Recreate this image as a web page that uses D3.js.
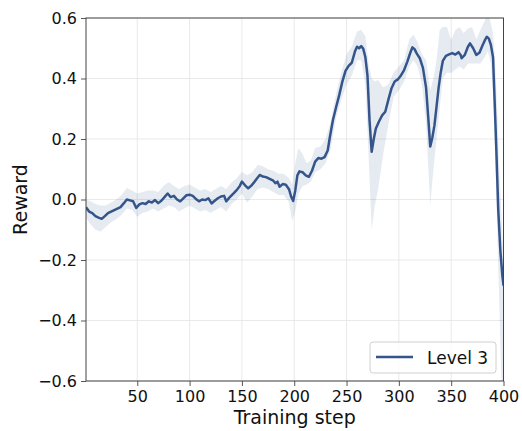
<!DOCTYPE html>
<html>
<head>
<meta charset="utf-8">
<script src="https://cdn.jsdelivr.net/npm/d3@7"></script>
<style>
  body { margin: 0; background: #fff; }
  svg { display: block; font-family: "DejaVu Sans", sans-serif; }
</style>
</head>
<body>
<svg id="chart" width="522" height="431"></svg>
<script>
// 평균 곡선 (step, reward)
const steps = [1, 4, 7, 10, 13, 16, 19, 22, 25, 28, 31, 34, 37, 40, 43, 46, 49, 52, 55, 58,
  61, 64, 67, 70, 73, 76, 79, 82, 85, 88, 91, 94, 97, 100, 103, 106, 109, 112, 115, 118,
  121, 124, 127, 130, 133, 135, 138, 142, 145, 148, 150, 153, 156, 159, 161, 164, 167, 170, 173, 177,
  180, 182, 184, 186, 189, 192, 195, 197, 199, 201, 203, 205, 208, 211, 214, 217, 220, 223, 226, 229,
  232, 234, 237, 240, 243, 246, 249, 252, 255, 258, 260, 262, 264, 266, 268, 270, 272, 274, 276, 278,
  281, 284, 287, 290, 293, 296, 299, 302, 305, 308, 311, 313, 315, 317, 320, 323, 326, 328, 330, 332,
  334, 336, 338, 340, 342, 345, 348, 351, 354, 357, 359, 360, 363, 366, 368, 371, 374, 377, 380, 382,
  384, 386, 388, 390, 392, 393, 395, 397, 399, 400];
const reward = [-0.026, -0.04, -0.045, -0.055, -0.06, -0.064, -0.055, -0.045, -0.04, -0.035, -0.03, -0.025, -0.013, 0.0, -0.003, -0.006, -0.028, -0.016, -0.012, -0.015,
  -0.006, -0.01, -0.002, -0.012, -0.004, 0.008, 0.02, 0.008, 0.012, 0.0, -0.006, 0.004, 0.014, 0.016, 0.012, 0.002, -0.006, 0.0, -0.002, 0.004,
  -0.013, -0.004, 0.004, 0.01, 0.012, -0.006, 0.006, 0.02, 0.031, 0.045, 0.059, 0.047, 0.037, 0.046, 0.054, 0.068, 0.081, 0.076, 0.074, 0.067,
  0.062, 0.054, 0.059, 0.042, 0.051, 0.049, 0.034, 0.01, -0.005, 0.03, 0.08, 0.093, 0.09, 0.08, 0.075, 0.095, 0.125, 0.137, 0.135, 0.14,
  0.162, 0.205, 0.263, 0.305, 0.345, 0.39, 0.425, 0.442, 0.452, 0.489, 0.505, 0.5, 0.507, 0.498, 0.47, 0.41, 0.26, 0.158, 0.2, 0.235,
  0.258, 0.278, 0.29, 0.33, 0.368, 0.39, 0.397, 0.41, 0.428, 0.455, 0.486, 0.503, 0.497, 0.483, 0.467, 0.435, 0.37, 0.275, 0.175, 0.205,
  0.245, 0.307, 0.37, 0.42, 0.458, 0.475, 0.48, 0.484, 0.479, 0.487, 0.478, 0.467, 0.478, 0.505, 0.516, 0.5, 0.478, 0.485, 0.51, 0.525,
  0.538, 0.532, 0.51, 0.47, 0.28, 0.18, -0.035, -0.17, -0.255, -0.285];

// 음영 범위 (하한/상한)
const bandSteps = [1, 5, 10, 15, 20, 25, 30, 35, 40, 45, 50, 55, 60, 65, 70, 75, 80, 85, 90, 95,
  100, 105, 110, 115, 120, 125, 130, 135, 140, 145, 150, 155, 160, 165, 170, 175, 180, 185, 190, 195,
  198, 201, 204, 208, 212, 216, 220, 225, 230, 235, 240, 245, 250, 255, 260, 264, 268, 271, 274, 277,
  280, 285, 290, 295, 300, 305, 310, 314, 318, 322, 326, 330, 333, 336, 339, 342, 346, 350, 354, 358,
  362, 366, 370, 374, 378, 382, 385, 388, 390, 392, 394, 396, 398, 400];
const bandLow = [-0.06, -0.08, -0.1, -0.106, -0.09, -0.075, -0.065, -0.05, -0.03, -0.035, -0.057, -0.045, -0.04, -0.03, -0.04, -0.03, -0.02, -0.025, -0.04, -0.03,
  -0.02, -0.03, -0.04, -0.035, -0.045, -0.035, -0.025, -0.04, -0.015, 0.0, 0.02, -0.01, 0.01, 0.035, 0.04, 0.035, 0.025, 0.015, 0.015, -0.01,
  -0.07, -0.04, 0.02, 0.045, 0.05, 0.06, 0.09, 0.1, 0.12, 0.17, 0.27, 0.33, 0.38, 0.41, 0.46, 0.46, 0.38, 0.15, -0.1, -0.02,
  0.03, 0.15, 0.25, 0.34, 0.36, 0.39, 0.44, 0.46, 0.44, 0.38, 0.25, -0.018, 0.1, 0.2, 0.3, 0.4, 0.42, 0.418, 0.43, 0.44,
  0.43, 0.45, 0.45, 0.45, 0.45, 0.47, 0.49, 0.45, 0.35, 0.15, -0.1, -0.35, -0.6, -0.7];
const bandHigh = [0.0, -0.005, -0.015, -0.02, -0.02, -0.01, 0.0, 0.015, 0.038, 0.03, 0.02, 0.025, 0.03, 0.03, 0.025, 0.045, 0.058, 0.045, 0.035, 0.045,
  0.05, 0.04, 0.03, 0.035, 0.025, 0.035, 0.045, 0.035, 0.055, 0.07, 0.092, 0.08, 0.09, 0.115, 0.11, 0.1, 0.095, 0.085, 0.085, 0.07,
  0.05, 0.12, 0.17, 0.15, 0.12, 0.13, 0.17, 0.175, 0.2, 0.26, 0.35, 0.42, 0.48, 0.505, 0.555, 0.56, 0.54, 0.45, 0.4, 0.39,
  0.395, 0.37, 0.38, 0.42, 0.44, 0.46, 0.53, 0.545, 0.52, 0.48, 0.46, 0.36, 0.4, 0.46, 0.56, 0.57, 0.57, 0.527, 0.56, 0.57,
  0.55, 0.565, 0.57, 0.53, 0.56, 0.59, 0.62, 0.58, 0.55, 0.45, 0.3, 0.1, -0.05, -0.2];

const xTicks = [50, 100, 150, 200, 250, 300, 350, 400];
const yTicks = [-0.6, -0.4, -0.2, 0.0, 0.2, 0.4, 0.6];
const seriesName = "Level 3";

const LINE = "#34558b";
const W = 522, H = 431;
const m = { top: 18, right: 18.5, bottom: 50, left: 86 };

const svg = d3.select("#chart");
const x = d3.scaleLinear().domain([1, 400]).range([m.left, W - m.right]);
const y = d3.scaleLinear().domain([-0.6, 0.6]).range([H - m.bottom, m.top]);

// 그리드
const grid = svg.append("g").attr("stroke", "#e3e3e3").attr("stroke-width", 0.8);
grid.selectAll("line.gx").data(xTicks).join("line")
  .attr("x1", d => x(d)).attr("x2", d => x(d))
  .attr("y1", y(-0.6)).attr("y2", y(0.6));
grid.selectAll("line.gy").data(yTicks).join("line")
  .attr("x1", x(1)).attr("x2", x(400))
  .attr("y1", d => y(d)).attr("y2", d => y(d));

svg.append("clipPath").attr("id", "clip").append("rect")
  .attr("x", m.left).attr("y", m.top)
  .attr("width", W - m.left - m.right).attr("height", H - m.top - m.bottom);

const plot = svg.append("g").attr("clip-path", "url(#clip)");

const band = bandSteps.map((s, i) => ({ s, lo: bandLow[i], hi: bandHigh[i] }));
plot.append("path")
  .datum(band)
  .attr("fill", LINE).attr("fill-opacity", 0.12)
  .attr("d", d3.area().x(d => x(d.s)).y0(d => y(d.lo)).y1(d => y(d.hi)));

const pts = steps.map((s, i) => ({ s, v: reward[i] }));
plot.append("path")
  .datum(pts)
  .attr("fill", "none").attr("stroke", LINE).attr("stroke-width", 2.5)
  .attr("stroke-linejoin", "round")
  .attr("d", d3.line().x(d => x(d.s)).y(d => y(d.v)));

// 축
const xAxis = svg.append("g").attr("transform", `translate(0,${H - m.bottom})`)
  .call(d3.axisBottom(x).tickValues(xTicks).tickSize(5).tickPadding(5));
const yAxis = svg.append("g").attr("transform", `translate(${m.left},0)`)
  .call(d3.axisLeft(y).tickValues(yTicks).tickSize(5).tickPadding(4)
    .tickFormat(d => d3.format(".1f")(d).replace("-", "\u2212")));
[xAxis, yAxis].forEach(a => {
  a.select(".domain").remove();
  a.selectAll(".tick line").attr("stroke", "#444").attr("stroke-width", 0.9);
  a.selectAll(".tick text").attr("fill", "#111").attr("font-size", 16)
    .attr("font-family", "DejaVu Sans");
});

// 테두리
svg.append("rect")
  .attr("x", m.left).attr("y", m.top)
  .attr("width", W - m.left - m.right).attr("height", H - m.top - m.bottom)
  .attr("fill", "none").attr("stroke", "#444").attr("stroke-width", 1);

svg.append("text")
  .attr("x", (m.left + W - m.right) / 2).attr("y", 424)
  .attr("text-anchor", "middle").attr("font-size", 19).attr("fill", "#111")
  .text("Training step");
svg.append("text")
  .attr("transform", `translate(27,${y(0)}) rotate(-90)`)
  .attr("text-anchor", "middle").attr("font-size", 19).attr("fill", "#111")
  .text("Reward");

// 범례
const lg = svg.append("g").attr("transform", "translate(370,342)");
lg.append("rect").attr("width", 126).attr("height", 31).attr("rx", 3)
  .attr("fill", "#fff").attr("fill-opacity", 0.8)
  .attr("stroke", "#d0d0d0").attr("stroke-width", 1);
lg.append("line").attr("x1", 6).attr("x2", 43).attr("y1", 15).attr("y2", 15)
  .attr("stroke", LINE).attr("stroke-width", 2.5);
lg.append("text").attr("x", 57).attr("y", 21.5)
  .attr("font-size", 17).attr("fill", "#111").text(seriesName);
</script>
</body>
</html>
